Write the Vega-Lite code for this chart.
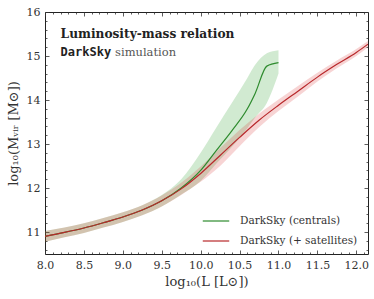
{
  "$schema": "https://vega.github.io/schema/vega-lite/v6.json",
  "width": 323,
  "height": 242,
  "autosize": {"type": "none"},
  "padding": {"left": 45, "top": 12, "right": 6, "bottom": 45},
  "background": "white",
  "config": {
    "view": {"stroke": "#222", "strokeWidth": 1},
    "font": "DejaVu Serif",
    "axis": {
      "domain": false, "grid": false,
      "labelFont": "DejaVu Serif", "labelFontSize": 11, "labelColor": "#333",
      "tickColor": "#333", "tickWidth": 0.8,
      "titleFont": "DejaVu Serif", "titleFontSize": 13, "titleColor": "#333", "titleFontWeight": "normal",
      "labelOverlap": false, "labelFlush": false, "labelBound": false
    }
  },
  "datasets": {
    "cen": [
      {"s": "DarkSky (centrals)", "L": 8.0, "m": 10.90, "lo": 10.78, "hi": 11.02},
      {"s": "DarkSky (centrals)", "L": 8.25, "m": 10.99, "lo": 10.88, "hi": 11.10},
      {"s": "DarkSky (centrals)", "L": 8.5, "m": 11.09, "lo": 10.98, "hi": 11.20},
      {"s": "DarkSky (centrals)", "L": 8.75, "m": 11.21, "lo": 11.10, "hi": 11.32},
      {"s": "DarkSky (centrals)", "L": 9.0, "m": 11.34, "lo": 11.23, "hi": 11.45},
      {"s": "DarkSky (centrals)", "L": 9.25, "m": 11.50, "lo": 11.38, "hi": 11.61},
      {"s": "DarkSky (centrals)", "L": 9.5, "m": 11.71, "lo": 11.58, "hi": 11.84},
      {"s": "DarkSky (centrals)", "L": 9.75, "m": 12.00, "lo": 11.85, "hi": 12.20},
      {"s": "DarkSky (centrals)", "L": 10.0, "m": 12.40, "lo": 12.16, "hi": 12.80},
      {"s": "DarkSky (centrals)", "L": 10.2, "m": 12.85, "lo": 12.55, "hi": 13.37},
      {"s": "DarkSky (centrals)", "L": 10.4, "m": 13.30, "lo": 12.93, "hi": 13.93},
      {"s": "DarkSky (centrals)", "L": 10.6, "m": 13.80, "lo": 13.36, "hi": 14.50},
      {"s": "DarkSky (centrals)", "L": 10.7, "m": 14.15, "lo": 13.60, "hi": 14.80},
      {"s": "DarkSky (centrals)", "L": 10.85, "m": 14.77, "lo": 13.93, "hi": 15.06},
      {"s": "DarkSky (centrals)", "L": 11.0, "m": 14.85, "lo": 14.60, "hi": 15.13}
    ],
    "sat": [
      {"s": "DarkSky (+ satellites)", "L": 8.0, "m": 10.90, "lo": 10.78, "hi": 11.02},
      {"s": "DarkSky (+ satellites)", "L": 8.25, "m": 10.99, "lo": 10.88, "hi": 11.10},
      {"s": "DarkSky (+ satellites)", "L": 8.5, "m": 11.09, "lo": 10.98, "hi": 11.20},
      {"s": "DarkSky (+ satellites)", "L": 8.75, "m": 11.21, "lo": 11.10, "hi": 11.32},
      {"s": "DarkSky (+ satellites)", "L": 9.0, "m": 11.34, "lo": 11.23, "hi": 11.45},
      {"s": "DarkSky (+ satellites)", "L": 9.25, "m": 11.50, "lo": 11.38, "hi": 11.61},
      {"s": "DarkSky (+ satellites)", "L": 9.5, "m": 11.71, "lo": 11.58, "hi": 11.83},
      {"s": "DarkSky (+ satellites)", "L": 9.75, "m": 11.98, "lo": 11.84, "hi": 12.12},
      {"s": "DarkSky (+ satellites)", "L": 10.0, "m": 12.33, "lo": 12.14, "hi": 12.49},
      {"s": "DarkSky (+ satellites)", "L": 10.25, "m": 12.74, "lo": 12.50, "hi": 12.91},
      {"s": "DarkSky (+ satellites)", "L": 10.5, "m": 13.15, "lo": 12.95, "hi": 13.32},
      {"s": "DarkSky (+ satellites)", "L": 10.75, "m": 13.54, "lo": 13.38, "hi": 13.69},
      {"s": "DarkSky (+ satellites)", "L": 11.0, "m": 13.88, "lo": 13.75, "hi": 14.01},
      {"s": "DarkSky (+ satellites)", "L": 11.25, "m": 14.20, "lo": 14.08, "hi": 14.32},
      {"s": "DarkSky (+ satellites)", "L": 11.5, "m": 14.52, "lo": 14.42, "hi": 14.62},
      {"s": "DarkSky (+ satellites)", "L": 11.75, "m": 14.81, "lo": 14.72, "hi": 14.90},
      {"s": "DarkSky (+ satellites)", "L": 12.0, "m": 15.08, "lo": 15.00, "hi": 15.16},
      {"s": "DarkSky (+ satellites)", "L": 12.15, "m": 15.27, "lo": 15.20, "hi": 15.34}
    ]
  },
  "layer": [
    {
      "data": {"name": "cen"},
      "mark": {"type": "area", "color": "#2ca02c", "opacity": 0.22, "interpolate": "monotone"},
      "encoding": {
        "x": {"field": "L", "type": "quantitative", "scale": {"domain": [8, 12.15], "nice": false, "zero": false},
          "axis": {"orient": "bottom", "values": [8, 8.5, 9, 9.5, 10, 10.5, 11, 11.5, 12], "format": ".1f", "tickSize": -4, "labelPadding": 9, "title": "log₁₀(L [L⊙])", "titlePadding": 5}},
        "y": {"field": "lo", "type": "quantitative", "scale": {"domain": [10.5, 16], "nice": false, "zero": false},
          "axis": {"orient": "left", "values": [11, 12, 13, 14, 15, 16], "format": "d", "tickSize": -4, "labelPadding": 9, "title": "log₁₀(Mᵥᵢᵣ [M⊙])", "titlePadding": 6}},
        "y2": {"field": "hi"}
      }
    },
    {
      "data": {"name": "sat"},
      "mark": {"type": "area", "color": "#d62728", "opacity": 0.2, "interpolate": "monotone"},
      "encoding": {
        "x": {"field": "L", "type": "quantitative",
          "axis": {"orient": "bottom", "values": [8.1, 8.2, 8.3, 8.4, 8.6, 8.7, 8.8, 8.9, 9.1, 9.2, 9.3, 9.4, 9.6, 9.7, 9.8, 9.9, 10.1, 10.2, 10.3, 10.4, 10.6, 10.7, 10.8, 10.9, 11.1, 11.2, 11.3, 11.4, 11.6, 11.7, 11.8, 11.9, 12.1], "tickSize": -2, "labels": false, "title": null}},
        "y": {"field": "lo", "type": "quantitative",
          "axis": {"orient": "left", "values": [10.6, 10.8, 11.2, 11.4, 11.6, 11.8, 12.2, 12.4, 12.6, 12.8, 13.2, 13.4, 13.6, 13.8, 14.2, 14.4, 14.6, 14.8, 15.2, 15.4, 15.6, 15.8], "tickSize": -2, "labels": false, "title": null}},
        "y2": {"field": "hi"}
      }
    },
    {
      "data": {"name": "cen"},
      "mark": {"type": "line", "strokeWidth": 1.2, "interpolate": "monotone"},
      "encoding": {
        "x": {"field": "L", "type": "quantitative",
          "axis": {"orient": "top", "values": [8, 8.5, 9, 9.5, 10, 10.5, 11, 11.5, 12], "tickSize": -4, "labels": false, "title": null}},
        "y": {"field": "m", "type": "quantitative",
          "axis": {"orient": "right", "values": [11, 12, 13, 14, 15, 16], "tickSize": -4, "labels": false, "title": null}},
        "color": {"field": "s", "type": "nominal",
          "scale": {"domain": ["DarkSky (centrals)", "DarkSky (+ satellites)"], "range": ["#2e8b2e", "#b8282b"]},
          "legend": {"orient": "none", "legendX": 157, "legendY": 195, "title": null, "symbolType": "stroke", "symbolSize": 700, "symbolStrokeWidth": 1.2, "labelFont": "DejaVu Serif", "labelFontSize": 10.5, "labelColor": "#333", "labelOffset": 10, "rowPadding": -7, "padding": 0}}
      }
    },
    {
      "data": {"name": "sat"},
      "mark": {"type": "line", "strokeWidth": 1.2, "interpolate": "monotone"},
      "encoding": {
        "x": {"field": "L", "type": "quantitative",
          "axis": {"orient": "top", "values": [8.1, 8.2, 8.3, 8.4, 8.6, 8.7, 8.8, 8.9, 9.1, 9.2, 9.3, 9.4, 9.6, 9.7, 9.8, 9.9, 10.1, 10.2, 10.3, 10.4, 10.6, 10.7, 10.8, 10.9, 11.1, 11.2, 11.3, 11.4, 11.6, 11.7, 11.8, 11.9, 12.1], "tickSize": -2, "labels": false, "title": null}},
        "y": {"field": "m", "type": "quantitative",
          "axis": {"orient": "right", "values": [10.6, 10.8, 11.2, 11.4, 11.6, 11.8, 12.2, 12.4, 12.6, 12.8, 13.2, 13.4, 13.6, 13.8, 14.2, 14.4, 14.6, 14.8, 15.2, 15.4, 15.6, 15.8], "tickSize": -2, "labels": false, "title": null}},
        "color": {"field": "s", "type": "nominal"}
      }
    },
    {
      "data": {"values": [{"t": "Luminosity-mass relation"}]},
      "mark": {"type": "text", "font": "DejaVu Serif", "fontWeight": "bold", "fontSize": 12.2, "align": "left", "baseline": "alphabetic", "color": "#222"},
      "encoding": {
        "x": {"datum": 8.2, "type": "quantitative", "axis": null},
        "y": {"datum": 15.42, "type": "quantitative", "axis": null},
        "text": {"field": "t"}
      }
    },
    {
      "data": {"values": [{"t": "DarkSky"}]},
      "mark": {"type": "text", "font": "DejaVu Sans Mono", "fontWeight": "bold", "fontSize": 12, "align": "left", "baseline": "alphabetic", "color": "#222"},
      "encoding": {
        "x": {"datum": 8.2, "type": "quantitative", "axis": null},
        "y": {"datum": 15.0, "type": "quantitative", "axis": null},
        "text": {"field": "t"}
      }
    },
    {
      "data": {"values": [{"t": "simulation"}]},
      "mark": {"type": "text", "font": "DejaVu Serif", "fontSize": 11.5, "align": "left", "baseline": "alphabetic", "color": "#555"},
      "encoding": {
        "x": {"datum": 8.9, "type": "quantitative", "axis": null},
        "y": {"datum": 15.0, "type": "quantitative", "axis": null},
        "text": {"field": "t"}
      }
    }
  ],
  "resolve": {"axis": {"x": "independent", "y": "independent"}}
}
